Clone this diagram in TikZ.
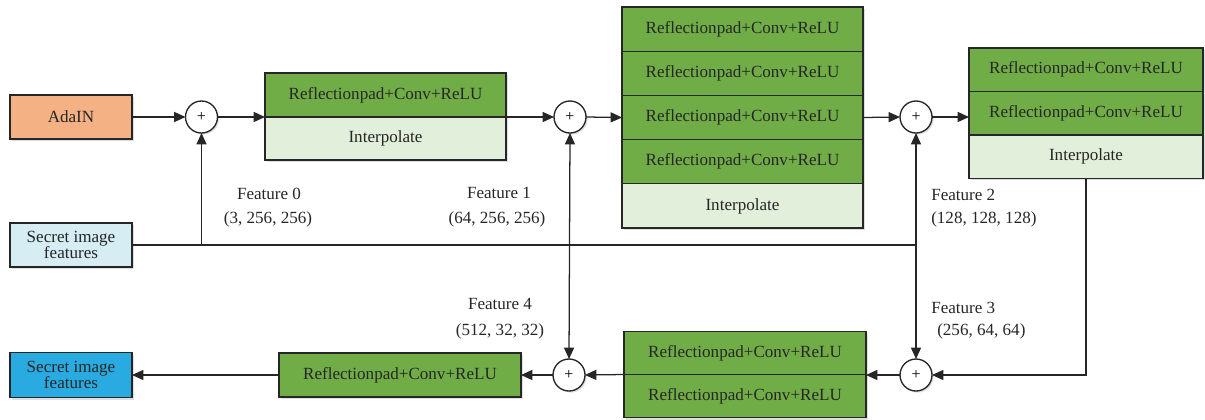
\documentclass[tikz,border=0pt]{standalone}
\usepackage{fontspec}
\setmainfont{Liberation Serif}
\usetikzlibrary{arrows.meta,shadows}
\definecolor{dgreen}{HTML}{70AD47}
\definecolor{lgreen}{HTML}{E2EFDA}
\definecolor{orng}{HTML}{F4B183}
\definecolor{lblue}{HTML}{D5EDF3}
\definecolor{bblue}{HTML}{29ABE2}
\definecolor{txt}{HTML}{262626}
\tikzset{
  boxbase/.style={draw=black!85, line width=1pt, inner sep=0pt, outer sep=0pt,
    text=txt, font=\fontsize{12.8}{14}\selectfont, align=center,
    drop shadow={shadow xshift=1.5pt, shadow yshift=-1.5pt, opacity=0.25}},
  greenrow/.style={boxbase, fill=dgreen, minimum width=181.5pt},
  lightrow/.style={boxbase, fill=lgreen, minimum width=181.5pt},
  sidebox/.style={boxbase, minimum width=91.5pt, minimum height=33pt},
  plusnode/.style={circle, draw=black!85, fill=white, line width=1pt, minimum size=24pt,
    inner sep=0pt, outer sep=0pt, font=\fontsize{12}{12}\selectfont,
    drop shadow={shadow xshift=1.2pt, shadow yshift=-1.2pt, opacity=0.25}},
  lbl/.style={text=txt, font=\fontsize{12.8}{14}\selectfont, inner sep=0pt},
  conn/.style={draw=black!85, line width=0.95pt},
  arr/.style={conn, -{Triangle[length=8.5pt,width=7.5pt]}},
  darr/.style={conn, {Triangle[length=8.5pt,width=7.5pt]}-{Triangle[length=8.5pt,width=7.5pt]}}
}
\begin{document}
\begin{tikzpicture}[x=0.75pt,y=-0.75pt]
\useasboundingbox (0,0) rectangle (1205,419);

% left boxes
\node[sidebox, fill=orng] (ada) at (71,117) {AdaIN};
\node[sidebox, fill=lblue] (sT) at (71,245) {Secret image\\[-2pt]features};
\node[sidebox, fill=bblue, minimum height=33.75pt] (sB) at (71,375) {Secret image\\[-2pt]features};

% box 1
\node[greenrow, minimum width=180.75pt, minimum height=33pt] (b1a) at (385.5,95) {Reflectionpad+Conv+ReLU};
\node[lightrow, minimum width=180.75pt, minimum height=32.25pt] (b1b) at (385.5,138.5) {Interpolate};

% box 2
\node[greenrow, minimum width=180.75pt, minimum height=33.15pt] (b2a) at (742.5,29.1) {Reflectionpad+Conv+ReLU};
\node[greenrow, minimum width=180.75pt, minimum height=33.15pt] (b2b) at (742.5,73.3) {Reflectionpad+Conv+ReLU};
\node[greenrow, minimum width=180.75pt, minimum height=33.15pt] (b2c) at (742.5,117.5) {Reflectionpad+Conv+ReLU};
\node[greenrow, minimum width=180.75pt, minimum height=33.15pt] (b2d) at (742.5,161.7) {Reflectionpad+Conv+ReLU};
\node[lightrow, minimum width=180.75pt, minimum height=33.15pt] (b2e) at (742.5,205.9) {Interpolate};

% box 3
\node[greenrow, minimum width=175.5pt, minimum height=32.6pt] (b3a) at (1086,69.75) {Reflectionpad+Conv+ReLU};
\node[greenrow, minimum width=175.5pt, minimum height=32.6pt] (b3b) at (1086,113.25) {Reflectionpad+Conv+ReLU};
\node[lightrow, minimum width=175.5pt, minimum height=32.6pt] (b3c) at (1086,156.75) {Interpolate};

% box 4
\node[greenrow, minimum width=181.5pt, minimum height=32.25pt] (b4a) at (745,353) {Reflectionpad+Conv+ReLU};
\node[greenrow, minimum width=181.5pt, minimum height=32.25pt] (b4b) at (745,396) {Reflectionpad+Conv+ReLU};

% box 5
\node[greenrow, minimum width=181.5pt, minimum height=33pt] (b5) at (400,375) {Reflectionpad+Conv+ReLU};

% plus nodes
\node[plusnode] (p1) at (201.5,117) {+};
\node[plusnode] (p2) at (570,117) {+};
\node[plusnode] (p3) at (916,117) {+};
\node[plusnode] (p4) at (916,375) {+};
\node[plusnode] (p5) at (569,375) {+};

% labels
\node[lbl] (f0) at (269,194) {Feature 0};
\node[lbl] (f0s) at (268,219) {(3, 256, 256)};
\node[lbl] (f1) at (499,193) {Feature 1};
\node[lbl] (f1s) at (497,219) {(64, 256, 256)};
\node[lbl, anchor=west] (f2) at (931,195) {Feature 2};
\node[lbl, anchor=west] (f2s) at (931,219) {(128, 128, 128)};
\node[lbl, anchor=west] (f3) at (931,308) {Feature 3};
\node[lbl, anchor=west] (f3s) at (937,331) {(256, 64, 64)};
\node[lbl] (f4) at (500,304) {Feature 4};
\node[lbl] (f4s) at (500,331) {(512, 32, 32)};

% connectors
\draw[arr] (ada.east) -- (p1.west);
\draw[arr] (p1.east) -- (b1a.south west);
\draw[arr] (b1a.south east) -- (p2.west);
\draw[arr] (p2.east) -- (b2c.west);
\draw[arr] (b2c.east) -- (p3.west);
\draw[arr] (p3.east) -- (p3.east -| b3b.west);
\draw[arr] (b3c.south) |- (p4.east);
\draw[arr] (p4.west) -- (p4.west -| b4a.east);
\draw[arr] (b4a.south west) -- (p5.east);
\draw[arr] (p5.west) -- (b5.east);
\draw[arr] (b5.west) -- (sB.east);
\draw[conn] (sT.east) -- (sT.east -| p3.south);
\draw[arr] (sT.east -| p1.south) -- (p1.south);
\draw[darr] (p2.south) -- (p5.north);
\draw[darr] (p3.south) -- (p4.north);
\end{tikzpicture}
\end{document}
